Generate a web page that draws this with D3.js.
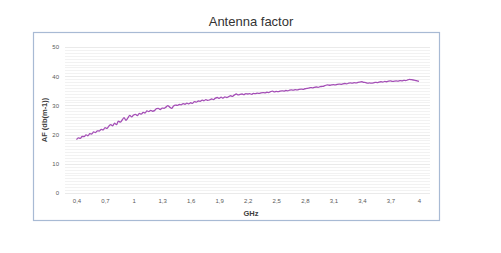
<!DOCTYPE html>
<html>
<head>
<meta charset="utf-8">
<script src="https://cdn.jsdelivr.net/npm/d3@7"></script>
<style>
  body { margin: 0; background: #fff; }
  svg { display: block; font-family: "Liberation Sans", Arial, sans-serif; }
</style>
</head>
<body>
<svg id="chart" width="501" height="253"></svg>
<script>
// AF samples every 0.02 GHz, 0.4 .. 4 GHz
const startGHz = 0.4;
const stepGHz = 0.02;
const afValues = [
  18.3, 18.9, 18.7, 19.4, 19.3,
  19.9, 19.6, 20.3, 20.2, 20.9,
  20.7, 21.3, 21.2, 21.8, 21.6,
  22.4, 22.1, 22.9, 23.4, 23.0,
  23.9, 23.4, 24.6, 24.3, 25.0,
  25.8, 24.9, 25.7, 26.6, 26.1,
  26.7, 26.9, 26.5, 27.3, 27.0,
  27.6, 27.4, 28.1, 27.9, 28.3,
  28.0, 28.2, 28.9, 29.0, 28.6,
  29.1, 29.0, 29.4, 29.9, 29.4,
  29.0, 29.8, 30.1, 30.0, 30.3,
  30.2, 30.6, 30.4, 30.8, 30.5,
  30.9, 30.7, 31.3, 31.1, 31.5,
  31.4, 31.8, 31.6, 32.0, 31.7,
  31.9, 32.2, 32.0, 32.5, 32.7,
  32.4, 32.8, 32.5, 32.9, 32.7,
  33.0, 33.3, 33.1, 33.6, 33.9,
  33.6, 33.8, 33.9, 33.7, 34.0,
  33.9, 34.0, 33.8, 34.1, 34.0,
  34.2, 34.1, 34.3, 34.4, 34.3,
  34.5, 34.4, 34.7, 34.9, 34.6,
  34.8, 34.7, 34.9, 35.0, 34.9,
  35.1, 35.0, 35.2, 35.3, 35.2,
  35.4, 35.3, 35.5, 35.6, 35.5,
  35.7, 35.8, 35.9, 36.1, 36.0,
  36.2, 36.3, 36.2, 36.4, 36.5,
  36.6, 36.9, 37.0, 36.9, 37.0,
  37.1, 37.0, 37.2, 37.3, 37.2,
  37.4, 37.5, 37.4, 37.6, 37.7,
  37.6, 37.8, 37.7, 37.9, 38.0,
  38.1, 37.9, 37.8, 37.6, 37.7,
  37.6, 37.7, 37.9, 37.8, 38.0,
  38.1, 38.0, 38.2, 38.1, 38.3,
  38.4, 38.2, 38.3, 38.4, 38.3,
  38.5, 38.4, 38.6, 38.5, 38.7,
  38.9, 38.8, 38.7, 38.6, 38.4,
  38.2
];
const xTicks = [0.4, 0.7, 1, 1.3, 1.6, 1.9, 2.2, 2.5, 2.8, 3.1, 3.4, 3.7, 4];
const yTicks = [0, 10, 20, 30, 40, 50];

const data = afValues.map((v, i) => ({ f: startGHz + i * stepGHz, v: v }));

const svg = d3.select('#chart');
const locale = d3.formatLocale({ decimal: ',', thousands: '.', grouping: [3], currency: ['', ''] });
const fmt = locale.format('.1~f');

const plot = { left: 65, right: 430, top: 47, bottom: 193 };
const x = d3.scaleLinear().domain([0.4, 4]).range([76.5, 419]);
const y = d3.scaleLinear().domain([0, 50]).range([plot.bottom, plot.top]);

svg.append('rect').attr('width', 501).attr('height', 253).attr('fill', '#fff');

// title
svg.append('text')
  .attr('x', 251).attr('y', 26)
  .attr('text-anchor', 'middle')
  .attr('font-size', 13)
  .attr('fill', '#333')
  .text('Antenna factor');

// chart frame
svg.append('rect')
  .attr('x', 33.5).attr('y', 32.5)
  .attr('width', 406).attr('height', 188)
  .attr('fill', 'none')
  .attr('stroke', '#a8bad4')
  .attr('stroke-width', 1.2);

// minor gridlines every unit
svg.append('g')
  .selectAll('line')
  .data(d3.range(0, 51, 1))
  .join('line')
  .attr('x1', plot.left).attr('x2', plot.right)
  .attr('y1', d => Math.round(y(d)) + 0.5)
  .attr('y2', d => Math.round(y(d)) + 0.5)
  .attr('stroke', d => d % 10 === 0 ? '#e4e4e4' : '#efefef')
  .attr('stroke-width', 0.8);

// y axis labels
const yAxis = d3.axisLeft(y).tickValues(yTicks).tickSize(0).tickPadding(0);
svg.append('g')
  .attr('transform', `translate(${plot.left - 6},0)`)
  .call(yAxis)
  .call(g => g.select('.domain').remove())
  .call(g => g.selectAll('text').attr('font-size', 6).attr('fill', '#595959').attr('font-family', 'Liberation Sans, Arial, sans-serif'));

// x axis labels
const xAxis = d3.axisBottom(x).tickValues(xTicks).tickFormat(fmt).tickSize(0).tickPadding(0);
svg.append('g')
  .attr('transform', `translate(0,${plot.bottom + 6})`)
  .call(xAxis)
  .call(g => g.select('.domain').remove())
  .call(g => g.selectAll('text').attr('font-size', 6).attr('fill', '#595959').attr('font-family', 'Liberation Sans, Arial, sans-serif'));

// axis titles
svg.append('text')
  .attr('x', 251).attr('y', 216)
  .attr('text-anchor', 'middle')
  .attr('font-size', 7.5)
  .attr('font-weight', 'bold')
  .attr('fill', '#404040')
  .text('GHz');

svg.append('text')
  .attr('transform', `translate(47,${(plot.top + plot.bottom) / 2}) rotate(-90)`)
  .attr('text-anchor', 'middle')
  .attr('font-size', 7.5)
  .attr('font-weight', 'bold')
  .attr('fill', '#404040')
  .text('AF (db(m-1))');

// the series
const line = d3.line().x(d => x(d.f)).y(d => y(d.v)).curve(d3.curveMonotoneX);
svg.append('path')
  .datum(data)
  .attr('d', line)
  .attr('fill', 'none')
  .attr('stroke', '#a44fb6')
  .attr('stroke-width', 1.3)
  .attr('stroke-linejoin', 'round');
</script>
</body>
</html>
